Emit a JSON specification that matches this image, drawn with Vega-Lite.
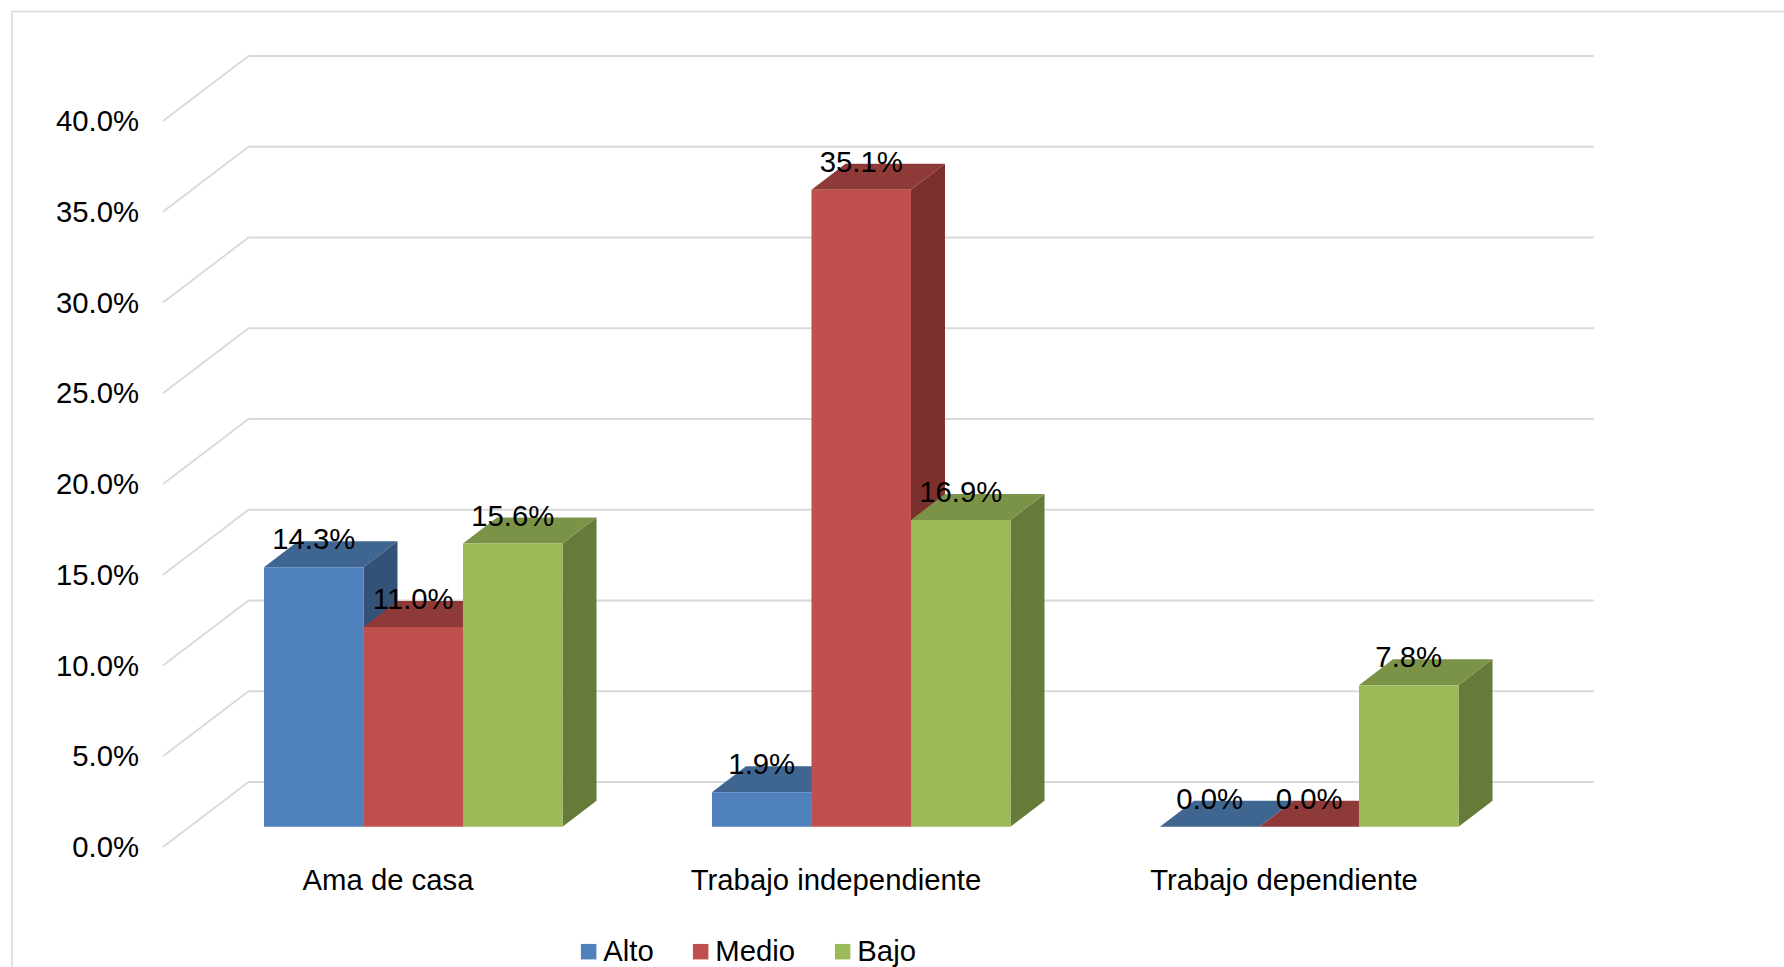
{
"$schema":"https://vega.github.io/schema/vega-lite/v6.json",
"width":1784,"height":967,"padding":0,"autosize":{"type":"none"},"background":"white",
"view":{"stroke":null},
"config":{"font":"Liberation Sans","text":{"font":"Liberation Sans"}},
"datasets":{
"bars":[
{"categoria":"Ama de casa","nivel":"Alto","valor":0.143},
{"categoria":"Ama de casa","nivel":"Medio","valor":0.110},
{"categoria":"Ama de casa","nivel":"Bajo","valor":0.156},
{"categoria":"Trabajo independiente","nivel":"Alto","valor":0.019},
{"categoria":"Trabajo independiente","nivel":"Medio","valor":0.351},
{"categoria":"Trabajo independiente","nivel":"Bajo","valor":0.169},
{"categoria":"Trabajo dependiente","nivel":"Alto","valor":0.0},
{"categoria":"Trabajo dependiente","nivel":"Medio","valor":0.0},
{"categoria":"Trabajo dependiente","nivel":"Bajo","valor":0.078}],
"ticks":[{"v":0},{"v":0.05},{"v":0.1},{"v":0.15},{"v":0.2},{"v":0.25},{"v":0.3},{"v":0.35},{"v":0.4}],
"cats":[{"categoria":"Ama de casa","pos":0.5},{"categoria":"Trabajo independiente","pos":1.5},{"categoria":"Trabajo dependiente","pos":2.5}]
},
"resolve":{"scale":{"color":"independent"},"axis":{"y":"independent"}},
"layer":[
{"data":{"name":"ticks"},"mark":{"type":"rule","color":"#D9D9D9","strokeWidth":2.2},
 "transform":[{"calculate":"0.19085","as":"xb"},{"calculate":"3.194","as":"xe"},{"calculate":"datum.v+0.035813","as":"yb"}],
 "encoding":{
 "x":{"field":"xb","type":"quantitative","scale":{"domain":[-0.36384,3.6183],"nice":false,"zero":false},"axis":null},
 "x2":{"field":"xe"},
 "y":{"field":"yb","type":"quantitative","scale":{"domain":[-0.066116,0.46667],"nice":false,"zero":false},"axis":null}}},
{"data":{"name":"ticks"},"mark":{"type":"rule","color":"#D9D9D9","strokeWidth":1.8},
 "transform":[{"calculate":"0","as":"xa"},{"calculate":"0.19085","as":"xb"},{"calculate":"datum.v+0.035813","as":"yb"}],
 "encoding":{
 "x":{"field":"xa","type":"quantitative","scale":{"domain":[-0.36384,3.6183],"nice":false,"zero":false},"axis":null},
 "x2":{"field":"xb"},
 "y":{"field":"v","type":"quantitative","scale":{"domain":[-0.066116,0.46667],"nice":false,"zero":false},
   "axis":{"orient":"left","values":[0,0.05,0.1,0.15,0.2,0.25,0.3,0.35,0.4],"format":".1%","title":null,"domain":false,"ticks":false,"grid":false,"labelPadding":0,"offset":-138.5,"labelOffset":0.7,"labelFontSize":29.3,"labelColor":"#000000","labelFont":"Liberation Sans","labelBound":false,"labelFlush":false,"labelOverlap":false}},
 "y2":{"field":"yb"}}},
{"data":{"values":[{"a":1}]},"mark":{"type":"rule","color":"#D9D9D9","strokeWidth":1.5},
 "encoding":{"x":{"datum":-0.3371,"type":"quantitative","scale":{"domain":[-0.36384,3.6183],"nice":false,"zero":false},"axis":null},
 "y":{"datum":-0.066116,"type":"quantitative","scale":{"domain":[-0.066116,0.46667],"nice":false,"zero":false},"axis":null},"y2":{"datum":0.4603}}},
{"data":{"values":[{"a":1}]},"mark":{"type":"rule","color":"#D9D9D9","strokeWidth":1.5},
 "encoding":{"x":{"datum":-0.3371,"type":"quantitative","scale":{"domain":[-0.36384,3.6183],"nice":false,"zero":false},"axis":null},"x2":{"datum":3.6183},
 "y":{"datum":0.4603,"type":"quantitative","scale":{"domain":[-0.066116,0.46667],"nice":false,"zero":false},"axis":null}}},
{"data":{"name":"bars"},"mark":{"type":"area","interpolate":"linear"},
 "transform":[
 {"calculate":"indexof(['Ama de casa','Trabajo independiente','Trabajo dependiente'],datum.categoria)+0.2254+indexof(['Alto','Medio','Bajo'],datum.nivel)*0.2221+0.2221","as":"xd"},
 {"calculate":"0","as":"f0"},{"calculate":"1","as":"f1"},
 {"fold":["f0","f1"],"as":["k","d"]},
 {"calculate":"datum.xd+datum.d*0.0759","as":"xs"},
 {"calculate":"datum.valor+0.011185+datum.d*0.014325","as":"ys"},
 {"calculate":"0.011185+datum.d*0.014325","as":"ys2"}],
 "encoding":{
 "x":{"field":"xs","type":"quantitative","scale":{"domain":[-0.36384,3.6183],"nice":false,"zero":false},"axis":null},
 "y":{"field":"ys","type":"quantitative","scale":{"domain":[-0.066116,0.46667],"nice":false,"zero":false},"axis":null},
 "y2":{"field":"ys2"},
 "detail":{"field":"categoria"},
 "color":{"field":"nivel","type":"nominal","scale":{"domain":["Alto","Medio","Bajo"],"range":["#345278","#7C302E","#667A3A"]},"legend":null}}},
{"data":{"name":"bars"},"mark":{"type":"area","orient":"horizontal","interpolate":"linear"},
 "transform":[
 {"calculate":"indexof(['Ama de casa','Trabajo independiente','Trabajo dependiente'],datum.categoria)+0.2254+indexof(['Alto','Medio','Bajo'],datum.nivel)*0.2221","as":"xl"},
 {"calculate":"0","as":"f0"},{"calculate":"1","as":"f1"},
 {"fold":["f0","f1"],"as":["k","d"]},
 {"calculate":"datum.xl+datum.d*0.0759","as":"xt"},
 {"calculate":"datum.xl+0.2221+datum.d*0.0759","as":"xt2"},
 {"calculate":"datum.valor+0.011185+datum.d*0.014325","as":"yt"}],
 "encoding":{
 "y":{"field":"yt","type":"quantitative","scale":{"domain":[-0.066116,0.46667],"nice":false,"zero":false},"axis":null},
 "x":{"field":"xt","type":"quantitative","scale":{"domain":[-0.36384,3.6183],"nice":false,"zero":false},"axis":null},
 "x2":{"field":"xt2"},
 "detail":{"field":"categoria"},
 "color":{"field":"nivel","type":"nominal","scale":{"domain":["Alto","Medio","Bajo"],"range":["#3F6591","#8E3A38","#7A9347"]},"legend":null}}},
{"data":{"name":"bars"},"mark":{"type":"rect"},
 "transform":[
 {"calculate":"indexof(['Ama de casa','Trabajo independiente','Trabajo dependiente'],datum.categoria)+0.2254+indexof(['Alto','Medio','Bajo'],datum.nivel)*0.2221","as":"xl"},
 {"calculate":"datum.xl+0.2221","as":"xr"},
 {"calculate":"datum.valor+0.011185","as":"yt"},
 {"calculate":"0.011185","as":"yb"}],
 "encoding":{
 "x":{"field":"xl","type":"quantitative","scale":{"domain":[-0.36384,3.6183],"nice":false,"zero":false},"axis":null},
 "x2":{"field":"xr"},
 "y":{"field":"yt","type":"quantitative","scale":{"domain":[-0.066116,0.46667],"nice":false,"zero":false},"axis":null},
 "y2":{"field":"yb"},
 "color":{"field":"nivel","type":"nominal","scale":{"domain":["Alto","Medio","Bajo"],"range":["#4F81BD","#C0504D","#9BBB59"]},
  "legend":{"title":null,"orient":"none","legendX":574,"legendY":937,"direction":"horizontal","columns":3,"gridAlign":"each","columnPadding":32,"symbolType":"square","symbolSize":240,"symbolStrokeWidth":0,"labelFontSize":29.3,"labelFont":"Liberation Sans","labelColor":"#000000","labelOffset":0,"labelLimit":300,"padding":0}}}},
{"data":{"name":"bars"},"mark":{"type":"text","fontSize":29.3,"font":"Liberation Sans","color":"#000000","baseline":"middle","align":"center","dy":-27},
 "transform":[
 {"calculate":"indexof(['Ama de casa','Trabajo independiente','Trabajo dependiente'],datum.categoria)+0.2254+indexof(['Alto','Medio','Bajo'],datum.nivel)*0.2221+0.11105","as":"xc"},
 {"calculate":"datum.valor+0.011185","as":"yt"}],
 "encoding":{
 "x":{"field":"xc","type":"quantitative","scale":{"domain":[-0.36384,3.6183],"nice":false,"zero":false},"axis":null},
 "y":{"field":"yt","type":"quantitative","scale":{"domain":[-0.066116,0.46667],"nice":false,"zero":false},"axis":null},
 "text":{"field":"valor","type":"quantitative","format":".1%"}}},
{"data":{"name":"cats"},"mark":{"type":"text","fontSize":29.3,"font":"Liberation Sans","color":"#000000","baseline":"middle","align":"center","dy":34,"dx":1},
 "encoding":{
 "x":{"field":"pos","type":"quantitative","scale":{"domain":[-0.36384,3.6183],"nice":false,"zero":false},"axis":null},
 "y":{"datum":0,"type":"quantitative","scale":{"domain":[-0.066116,0.46667],"nice":false,"zero":false},"axis":null},
 "text":{"field":"categoria","type":"nominal"}}}
]
}
